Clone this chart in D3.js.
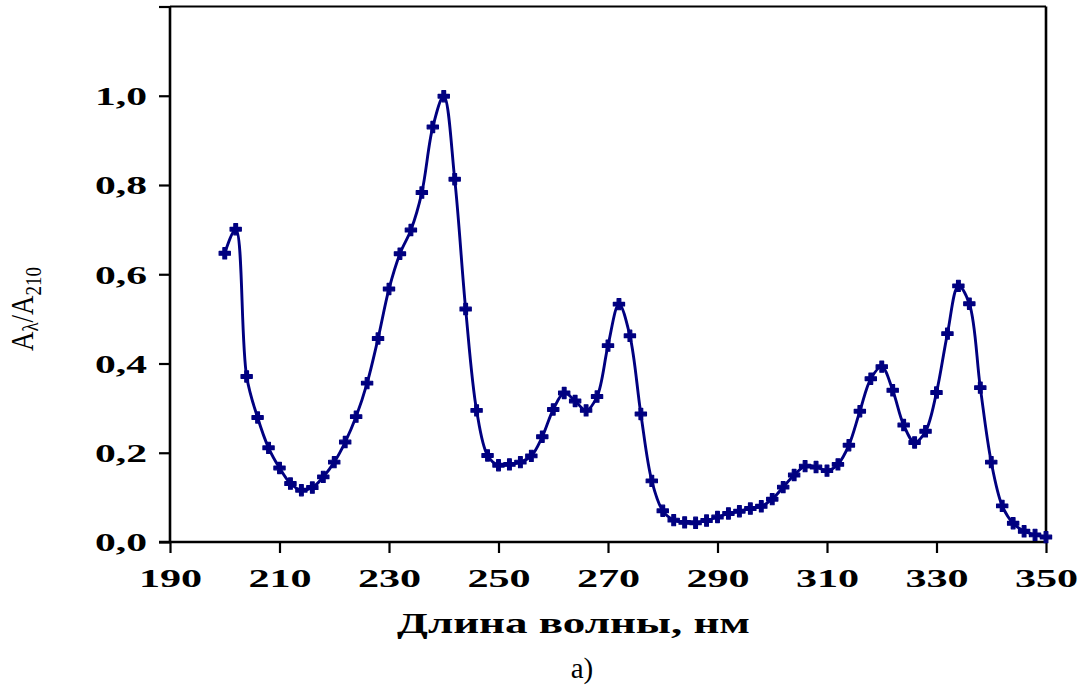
<!DOCTYPE html>
<html><head><meta charset="utf-8">
<script src="https://cdn.jsdelivr.net/npm/d3@7/dist/d3.min.js"></script>
<style>body{margin:0;background:#fff}svg{display:block}</style>
</head><body>
<svg id="c" width="1080" height="686"></svg>
<script>
const wavelengths = [200,202,204,206,208,210,212,214,216,218,220,222,224,226,228,230,232,234,236,238,240,242,244,246,248,250,252,254,256,258,260,262,264,266,268,270,272,274,276,278,280,282,284,286,288,290,292,294,296,298,300,302,304,306,308,310,312,314,316,318,320,322,324,326,328,330,332,334,336,338,340,342,344,346,348,350];
const ratios = [0.647,0.701,0.371,0.279,0.211,0.166,0.131,0.116,0.122,0.146,0.179,0.224,0.281,0.356,0.456,0.567,0.646,0.699,0.783,0.930,0.999,0.813,0.522,0.295,0.194,0.172,0.174,0.179,0.193,0.236,0.297,0.334,0.316,0.295,0.326,0.440,0.533,0.462,0.287,0.137,0.070,0.049,0.044,0.043,0.048,0.056,0.064,0.069,0.075,0.080,0.096,0.123,0.150,0.170,0.168,0.160,0.174,0.217,0.293,0.366,0.393,0.340,0.262,0.223,0.248,0.335,0.467,0.574,0.534,0.346,0.179,0.081,0.042,0.024,0.016,0.011];
const xTicks = [190,210,230,250,270,290,310,330,350];
const yTicks = [0,0.2,0.4,0.6,0.8,1.0,1.2];
const yTickLabels = ["0,0","0,2","0,4","0,6","0,8","1,0",""];
const xTitle = "Длина волны, нм";
const caption = "а)";

const svg = d3.select("#c");
const L = 170, R = 1046, T = 6.5, B = 542;
const x = d3.scaleLinear().domain([190,350]).range([L,R]);
const y = d3.scaleLinear().domain([0,1.2]).range([B,T]);
const navy = "#000080";
const serif = "'Liberation Serif','Times New Roman',serif";

function stretch(sel, f){
  sel.each(function(){
    const w = this.getComputedTextLength();
    if (w > 0){ this.setAttribute("textLength", w*f); this.setAttribute("lengthAdjust","spacingAndGlyphs"); }
  });
}

// frame (top and right)
svg.append("line").attr("x1",L).attr("x2",R).attr("y1",T).attr("y2",T)
  .attr("stroke","#000").attr("stroke-width",2.2);
svg.append("line").attr("x1",R).attr("x2",R).attr("y1",T).attr("y2",B)
  .attr("stroke","#000").attr("stroke-width",2.6);

// y axis
const gy = svg.append("g").attr("transform",`translate(${L},0)`)
  .call(d3.axisLeft(y).tickValues(yTicks).tickSize(11).tickPadding(12)
    .tickFormat((d,i)=>yTickLabels[i]));
gy.select(".domain").attr("stroke-width",2.6).attr("d",`M0,${T}V${B}`);
gy.selectAll(".tick line").attr("stroke-width",2.2);
gy.selectAll(".tick text").attr("font-family",serif).attr("font-weight","bold")
  .attr("font-size",26).attr("fill","#000").attr("dy","0.34em").call(stretch,1.6);

// x axis
const gx = svg.append("g").attr("transform",`translate(0,${B})`)
  .call(d3.axisBottom(x).tickValues(xTicks).tickSize(11).tickFormat(d3.format("d")));
gx.select(".domain").attr("stroke-width",2.4).attr("d",`M${L-11},0H${R}`);
gx.selectAll(".tick line").attr("stroke-width",2.2);
gx.selectAll(".tick text").attr("font-family",serif).attr("font-weight","bold")
  .attr("font-size",26).attr("fill","#000").attr("y",45).attr("dy",0).call(stretch,1.62);

// line
const pts = wavelengths.map((w,i)=>[w,ratios[i]]);
svg.append("path").datum(pts)
  .attr("fill","none").attr("stroke",navy).attr("stroke-width",2.9)
  .attr("d", d3.line().x(d=>x(d[0])).y(d=>y(d[1])).curve(d3.curveCatmullRom.alpha(0.5)));

// markers
const sym = d3.symbol().type(d3.symbolCross).size(70);
svg.append("g").selectAll("path").data(pts).join("path")
  .attr("transform",d=>`translate(${x(d[0])},${y(d[1])})`)
  .attr("d",sym).attr("fill",navy).attr("stroke",navy).attr("stroke-width",1.2)
  .attr("stroke-linejoin","round");

// x title
svg.append("text").attr("x",573.5).attr("y",633).attr("text-anchor","middle")
  .attr("font-family",serif).attr("font-weight","bold").attr("font-size",30)
  .attr("fill","#000").text(xTitle)
  .each(function(){ this.setAttribute("textLength",353); this.setAttribute("lengthAdjust","spacingAndGlyphs"); });

// caption
svg.append("text").attr("x",582).attr("y",678).attr("text-anchor","middle")
  .attr("font-family",serif).attr("font-size",29).attr("fill","#000").text(caption);

// y title
const yt = svg.append("text").attr("transform","translate(33,309) scale(1.2,1) rotate(-90)")
  .attr("text-anchor","middle").attr("font-family",serif).attr("font-size",27).attr("fill","#000");
yt.append("tspan").text("A");
yt.append("tspan").attr("font-size",19).attr("dy",4).text("λ");
yt.append("tspan").attr("dy",-4).text("/A");
yt.append("tspan").attr("font-size",19).attr("dy",7).text("210");
</script>
</body></html>
